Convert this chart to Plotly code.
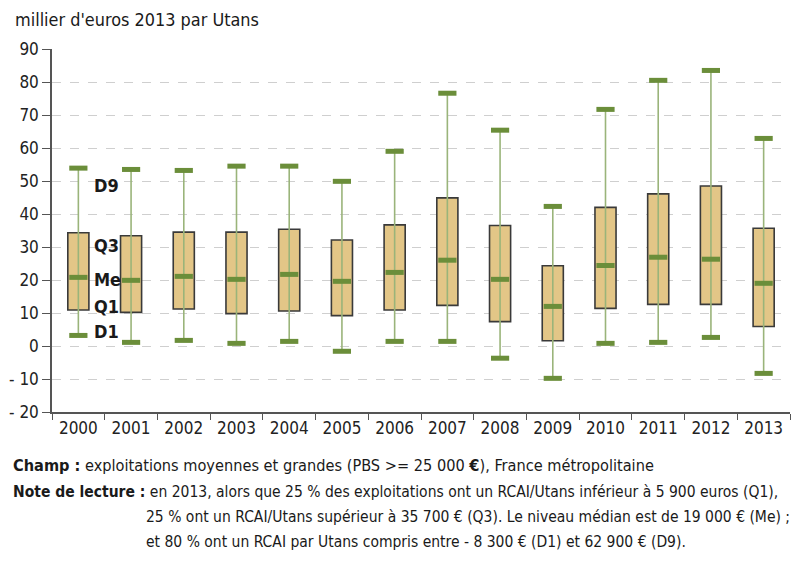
import plotly.graph_objects as go

years = ["2000", "2001", "2002", "2003", "2004", "2005", "2006",
         "2007", "2008", "2009", "2010", "2011", "2012", "2013"]
d1 = [3.2, 1.1, 1.7, 0.8, 1.4, -1.6, 1.4, 1.4, -3.7, -9.8, 0.8, 1.1, 2.6, -8.3]
q1 = [10.9, 10.2, 11.2, 9.8, 10.6, 9.2, 10.9, 12.3, 7.4, 1.6, 11.4, 12.6, 12.6, 5.9]
me = [20.8, 19.9, 21.1, 20.2, 21.7, 19.6, 22.3, 26.0, 20.2, 12.0, 24.4, 26.9, 26.3, 19.0]
q3 = [34.3, 33.4, 34.5, 34.5, 35.4, 32.1, 36.7, 44.9, 36.5, 24.3, 42.0, 46.1, 48.5, 35.7]
d9 = [53.9, 53.5, 53.2, 54.5, 54.5, 49.9, 59.0, 76.6, 65.4, 42.3, 71.7, 80.5, 83.5, 62.9]

ytick_vals = [90, 80, 70, 60, 50, 40, 30, 20, 10, 0, -10, -20]
ytick_text = ["90", "80", "70", "60", "50", "40", "30", "20", "10", "0", "- 10", "- 20"]

FONT = "DejaVu Sans Condensed, Liberation Sans Narrow, sans-serif"
GREEN = "#6b8e3a"
WHISK = "#9ab47a"

fig = go.Figure()

# whiskers
wx, wy = [], []
for i, yr in enumerate(years):
    wx += [yr, yr, None]
    wy += [d1[i], d9[i], None]
fig.add_trace(go.Scatter(x=wx, y=wy, mode="lines",
                         line=dict(color=WHISK, width=1.6),
                         hoverinfo="skip", showlegend=False))

# boxes
fig.add_trace(go.Bar(x=years, y=[b - a for a, b in zip(q1, q3)], base=q1,
                     width=0.4,
                     marker=dict(color="#e3c687",
                                 line=dict(color="#3a3a3a", width=1.6)),
                     showlegend=False))

# caps and medians
for vals in (d1, d9, me):
    fig.add_trace(go.Scatter(x=years, y=vals, mode="markers",
                             marker=dict(symbol="line-ew", size=13,
                                         line=dict(color=GREEN, width=5)),
                             showlegend=False))

# quantile labels next to the first box
lab_txt = ["D9", "Q3", "Me", "Q1", "D1"]
lab_y = [48.5, 30.6, 20.3, 11.9, 4.5]
for t, yv in zip(lab_txt, lab_y):
    fig.add_annotation(x=0.25, y=yv, xref="x", yref="y", text="<b>" + t + "</b>",
                       showarrow=False, xanchor="left",
                       font=dict(family=FONT, size=18, color="#1a1a1a"))

# page offset (browser body margin) compensation
OFF = 8
W, H = 810 - OFF, 563 - OFF
L, R, T, B = 44, 20, 41, 151
pw, ph = W - L - R, H - T - B

def px(xp):
    return (xp - OFF - L) / pw

def py(yp):
    return (OFF + T + ph - yp) / ph

notes = [
    (11, 465, 16.2, "<b>Champ :</b> exploitations moyennes et grandes (PBS >= 25 000 <b>€</b>), France métropolitaine"),
    (11, 492, 15.5, "<b>Note de lecture :</b> en 2013, alors que 25 % des exploitations ont un RCAI/Utans inférieur à 5 900 euros (Q1),"),
    (144, 517, 15.5, "25 % ont un RCAI/Utans supérieur à 35 700 € (Q3). Le niveau médian est de 19 000 € (Me) ;"),
    (144, 542, 15.5, "et 80 % ont un RCAI par Utans compris entre - 8 300 € (D1) et 62 900 € (D9)."),
]
for xp, yp, fs, t in notes:
    fig.add_annotation(x=px(xp), y=py(yp), xref="paper", yref="paper", text=t,
                       showarrow=False, xanchor="left", yanchor="middle",
                       font=dict(family=FONT, size=fs, color="#1a1a1a"))

fig.add_annotation(x=px(13), y=py(20), xref="paper", yref="paper",
                   text="millier d'euros 2013 par Utans", showarrow=False,
                   xanchor="left", yanchor="middle",
                   font=dict(family=FONT, size=17.9, color="#1a1a1a"))

fig.update_layout(
    width=W, height=H,
    margin=dict(l=L, r=R, t=T, b=B),
    paper_bgcolor="white", plot_bgcolor="white",
    font=dict(family=FONT, size=17, color="#222"),
    showlegend=False,
    xaxis=dict(type="category", categoryorder="array", categoryarray=years,
               range=[-0.5, 13.5], tickson="boundaries", ticks="outside",
               ticklen=6, tickcolor="#555", showline=True, linecolor="#555",
               linewidth=1.5, showgrid=False, automargin=False,
               tickfont=dict(size=17, color="#222")),
    yaxis=dict(range=[-20, 90], tickvals=ytick_vals, ticktext=ytick_text,
               ticks="outside", ticklen=8, tickcolor="#555", showline=True,
               linecolor="#555", linewidth=1.5, showgrid=True,
               gridcolor="#cfcfcf", griddash="dash", gridwidth=1,
               zeroline=False, automargin=False,
               tickfont=dict(size=17, color="#222")),
)

fig.write_html("out.html")
